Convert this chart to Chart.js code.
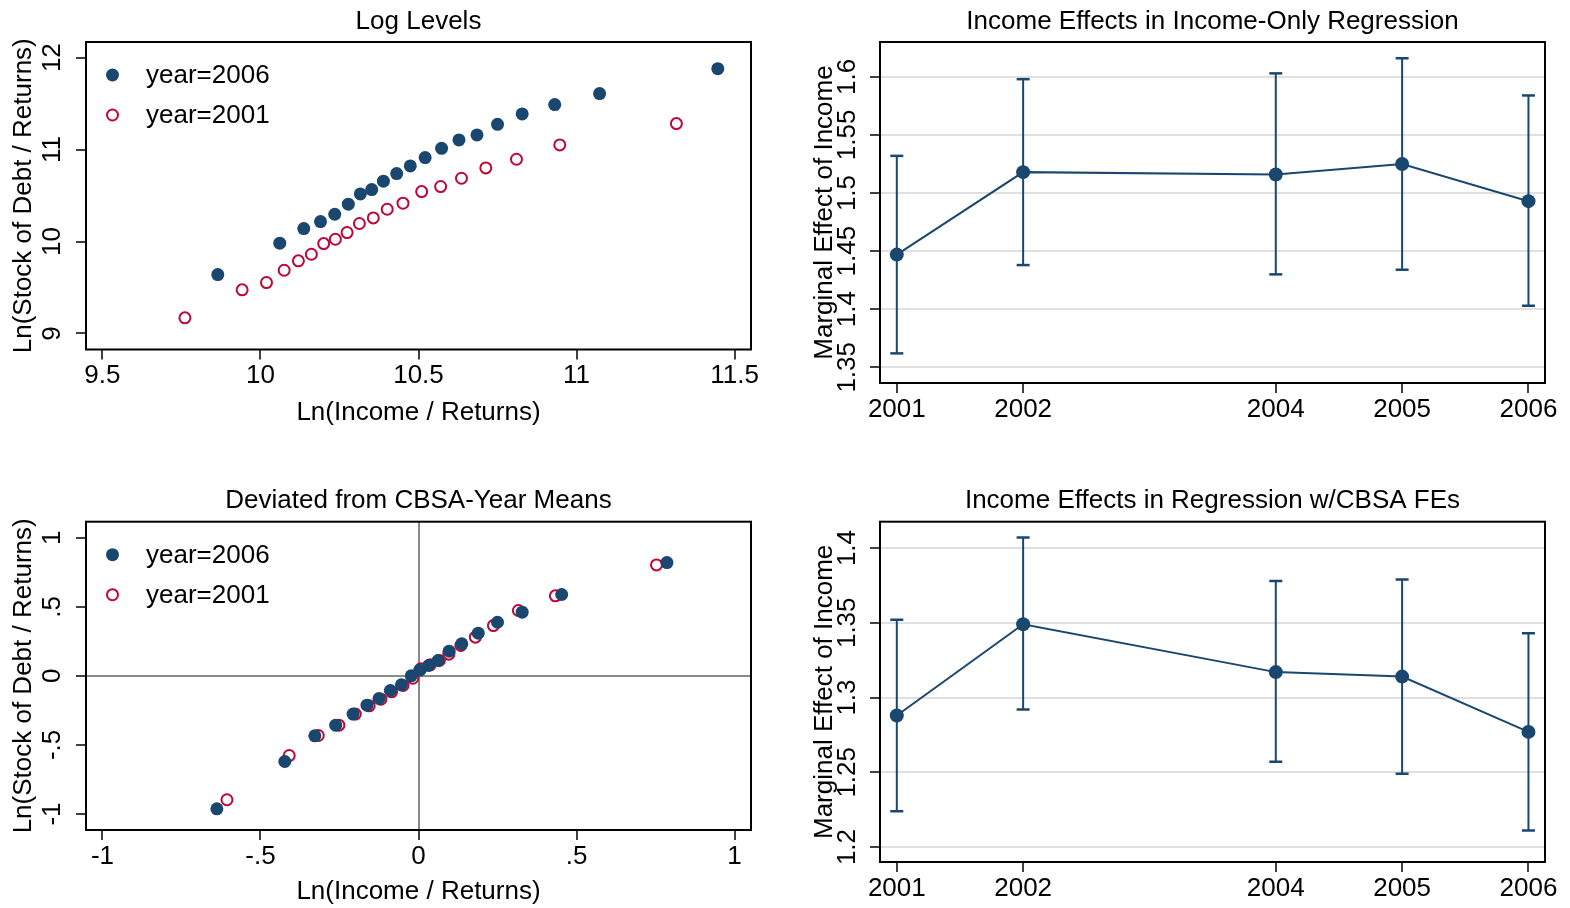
<!DOCTYPE html>
<html>
<head>
<meta charset="utf-8">
<title>Debt and income</title>
<script src="https://cdn.jsdelivr.net/npm/chart.js@4/dist/chart.umd.min.js"></script>
<style>
  html, body { margin: 0; padding: 0; background: #fff; }
  canvas { position: absolute; }
</style>
</head>
<body>
<canvas id="levels" width="785" height="454" style="left:0;top:0"></canvas>
<canvas id="incomeOnly" width="785" height="454" style="left:785px;top:0"></canvas>
<canvas id="deviated" width="785" height="454" style="left:0;top:454px"></canvas>
<canvas id="withFE" width="785" height="454" style="left:785px;top:454px"></canvas>
<script>
// Log levels (one point per income bin)
var lvlX2006 = [9.865, 10.061, 10.137, 10.190, 10.235, 10.278, 10.316, 10.352, 10.389, 10.431,
                10.474, 10.521, 10.573, 10.628, 10.685, 10.750, 10.828, 10.931, 11.073, 11.447];
var lvlY2006 = [9.641, 9.982, 10.141, 10.217, 10.297, 10.406, 10.518, 10.565, 10.656, 10.739,
                10.822, 10.913, 11.014, 11.105, 11.159, 11.275, 11.388, 11.489, 11.609, 11.880];
var lvlX2001 = [9.761, 9.942, 10.019, 10.075, 10.120, 10.161, 10.200, 10.237, 10.274, 10.313,
                10.357, 10.401, 10.451, 10.510, 10.570, 10.636, 10.713, 10.810, 10.947, 11.316];
var lvlY2001 = [9.170, 9.475, 9.554, 9.688, 9.790, 9.862, 9.978, 10.025, 10.098, 10.196,
                10.257, 10.351, 10.417, 10.543, 10.598, 10.688, 10.801, 10.895, 11.051, 11.283];
var lvlXTicks = [9.5, 10, 10.5, 11, 11.5];
var lvlXLabels = ['9.5', '10', '10.5', '11', '11.5'];
var lvlYTicks = [9, 10, 11, 12];
var lvlYLabels = ['9', '10', '11', '12'];

// Deviated from CBSA-year means
var devX2006 = [-0.638, -0.423, -0.328, -0.262, -0.207, -0.163, -0.125, -0.089, -0.054, -0.023,
                0.004, 0.032, 0.062, 0.097, 0.137, 0.189, 0.250, 0.328, 0.453, 0.786];
var devY2006 = [-0.963, -0.620, -0.434, -0.357, -0.277, -0.212, -0.164, -0.106, -0.065, 0.000,
                0.041, 0.075, 0.111, 0.179, 0.232, 0.309, 0.388, 0.461, 0.589, 0.820];
var devX2001 = [-0.606, -0.409, -0.317, -0.252, -0.200, -0.156, -0.119, -0.085, -0.049, -0.018,
                0.007, 0.037, 0.066, 0.096, 0.134, 0.180, 0.237, 0.316, 0.433, 0.753];
var devY2001 = [-0.897, -0.577, -0.432, -0.357, -0.277, -0.217, -0.169, -0.116, -0.070, -0.017,
                0.051, 0.080, 0.111, 0.157, 0.220, 0.280, 0.364, 0.473, 0.579, 0.803];
var devTicks = [-1, -0.5, 0, 0.5, 1];
var devLabels = ['-1', '-.5', '0', '.5', '1'];

// Marginal effect of income by year, with confidence bands
var years = [2001, 2002, 2004, 2005, 2006];
var yearLabels = ['2001', '2002', '2004', '2005', '2006'];
var effOnly = [1.447, 1.518, 1.516, 1.525, 1.493];
var loOnly  = [1.362, 1.438, 1.430, 1.434, 1.403];
var hiOnly  = [1.532, 1.598, 1.603, 1.616, 1.584];
var onlyTicks  = [1.35, 1.4, 1.45, 1.5, 1.55, 1.6];
var onlyLabels = ['1.35', '1.4', '1.45', '1.5', '1.55', '1.6'];
var effFE = [1.288, 1.349, 1.317, 1.314, 1.277];
var loFE  = [1.224, 1.292, 1.257, 1.249, 1.211];
var hiFE  = [1.352, 1.407, 1.378, 1.379, 1.343];
var feTicks  = [1.2, 1.25, 1.3, 1.35, 1.4];
var feLabels = ['1.2', '1.25', '1.3', '1.35', '1.4'];

var navy = '#1a476f';
var red = '#c10534';

Chart.defaults.font.family = "'Liberation Sans', Arial, sans-serif";
Chart.defaults.color = '#000';
Chart.defaults.animation = false;
Chart.defaults.plugins.tooltip.enabled = false;

function pts(xs, ys) {
  return xs.map(function(x, i) { return { x: x, y: ys[i] }; });
}

// each band is a vertical segment lo..hi, broken by a null so they don't join
function bands(lo, hi) {
  var out = [];
  years.forEach(function(yr, i) {
    out.push({ x: yr, y: lo[i] }, { x: yr, y: hi[i] }, { x: yr, y: null });
  });
  return out;
}

// box round the plot region
var frame = {
  id: 'frame',
  afterDatasetsDraw: function(chart) {
    var a = chart.chartArea, ctx = chart.ctx;
    ctx.save();
    ctx.strokeStyle = '#000';
    ctx.lineWidth = 2;
    ctx.strokeRect(a.left, a.top, a.right - a.left, a.bottom - a.top);
    ctx.restore();
  }
};

// legend sitting inside the plot, top left
var key = {
  id: 'key',
  afterDraw: function(chart, args, opts) {
    if (!opts.show) return;
    var a = chart.chartArea, ctx = chart.ctx;
    ctx.save();
    chart.data.datasets.forEach(function(ds, i) {
      var y = a.top + 33 + i * 40;
      var x = a.left + 26.5;
      ctx.beginPath();
      ctx.arc(x, y, ds.pointRadius, 0, Math.PI * 2);
      if (ds.pointBackgroundColor !== 'transparent') {
        ctx.fillStyle = ds.pointBackgroundColor;
        ctx.fill();
      }
      if (ds.pointBorderWidth) {
        ctx.lineWidth = ds.pointBorderWidth;
        ctx.strokeStyle = ds.pointBorderColor;
        ctx.stroke();
      }
      ctx.fillStyle = '#000';
      ctx.font = "26px 'Liberation Sans', Arial, sans-serif";
      ctx.textBaseline = 'middle';
      ctx.textAlign = 'left';
      ctx.fillText(ds.label, a.left + 60, y + 1);
    });
    ctx.restore();
  }
};

function xAxis(o) {
  return {
    type: 'linear', position: 'bottom', min: o.min, max: o.max,
    afterBuildTicks: function(s) { s.ticks = o.ticks.map(function(v) { return { value: v }; }); },
    afterFit: function(s) { s.height = o.h; },
    grid: {
      drawOnChartArea: !!o.zero,
      color: function(c) { return o.zero && c.tick && c.tick.value === 0 ? '#8a8a8a' : 'rgba(0,0,0,0)'; },
      lineWidth: 2,
      tickColor: '#000', tickLength: 10, tickWidth: 1.5
    },
    border: { display: false },
    ticks: {
      autoSkip: false, maxRotation: 0, padding: 1, font: { size: 26 }, color: '#000',
      callback: function(v, i) { return o.labels[i]; }
    },
    title: o.title ? { display: true, text: o.title, font: { size: 26 }, color: '#000', padding: 0 } : { display: false }
  };
}

function yAxis(o) {
  return {
    type: 'linear', position: 'left', min: o.min, max: o.max,
    afterBuildTicks: function(s) { s.ticks = o.ticks.map(function(v) { return { value: v }; }); },
    afterFit: function(s) { s.width = o.w; },
    grid: {
      drawOnChartArea: !!(o.zero || o.gridColor),
      color: function(c) {
        if (o.gridColor) return o.gridColor;
        return o.zero && c.tick && c.tick.value === 0 ? '#8a8a8a' : 'rgba(0,0,0,0)';
      },
      lineWidth: 2,
      tickColor: '#000', tickLength: 10, tickWidth: 1.5
    },
    border: { display: false },
    ticks: {
      autoSkip: false, minRotation: 90, maxRotation: 90, crossAlign: 'center',
      padding: o.pad, font: { size: 26 }, color: '#000',
      callback: function(v, i) { return o.labels[i]; }
    },
    title: { display: true, text: o.title, font: { size: 26 }, color: '#000', padding: { top: o.tpad, bottom: 0 } }
  };
}

function scatterSets(x6, y6, x1, y1) {
  return [
    { label: 'year=2006', data: pts(x6, y6), pointRadius: 6.5, pointBorderWidth: 0,
      pointBackgroundColor: navy, pointBorderColor: navy, backgroundColor: navy },
    { label: 'year=2001', data: pts(x1, y1), pointRadius: 5.5, pointBorderWidth: 2,
      pointBackgroundColor: 'transparent', pointBorderColor: red, borderColor: red }
  ];
}

function effectSets(eff, lo, hi) {
  return [
    { label: 'effect', data: pts(years, eff), showLine: true, borderColor: navy, borderWidth: 2,
      pointRadius: 7, pointBorderWidth: 0, pointBackgroundColor: navy },
    { label: 'band', data: bands(lo, hi), showLine: true, spanGaps: false, borderColor: navy, borderWidth: 2,
      pointStyle: 'line', pointRadius: 6.5, pointBorderWidth: 2.5, pointBorderColor: navy }
  ];
}

function titleOpts(text, top, bottom) {
  return { display: true, text: text, fullSize: false, font: { size: 26, weight: 'normal' },
           color: '#000', padding: { top: top, bottom: bottom } };
}

new Chart(document.getElementById('levels'), {
  type: 'scatter',
  data: { datasets: scatterSets(lvlX2006, lvlY2006, lvlX2001, lvlY2001) },
  options: {
    responsive: false,
    layout: { padding: { left: 0, right: 34, top: 0, bottom: 26 } },
    plugins: { legend: { display: false }, title: titleOpts('Log Levels', 6.4, 4.4), key: { show: true } },
    scales: {
      x: xAxis({ min: 9.448, max: 11.552, ticks: lvlXTicks, labels: lvlXLabels, h: 78.5, title: 'Ln(Income / Returns)' }),
      y: yAxis({ min: 8.826, max: 12.17, ticks: lvlYTicks, labels: lvlYLabels, w: 86, pad: 8.5, tpad: 8.5,
                 title: 'Ln(Stock of Debt / Returns)' })
    }
  },
  plugins: [frame, key]
});

new Chart(document.getElementById('incomeOnly'), {
  type: 'scatter',
  data: { datasets: effectSets(effOnly, loOnly, hiOnly) },
  options: {
    responsive: false,
    layout: { padding: { left: 25, right: 25, top: 0, bottom: 31 } },
    plugins: { legend: { display: false }, title: titleOpts('Income Effects in Income-Only Regression', 6.4, 4.4) },
    scales: {
      x: xAxis({ min: 2000.867, max: 2006.131, ticks: years, labels: yearLabels, h: 40 }),
      y: yAxis({ min: 1.3365, max: 1.630, ticks: onlyTicks, labels: onlyLabels, w: 70, pad: -3.6, tpad: -1,
                 gridColor: '#e0e0e0', title: 'Marginal Effect of Income' })
    }
  },
  plugins: [frame]
});

new Chart(document.getElementById('deviated'), {
  type: 'scatter',
  data: { datasets: scatterSets(devX2006, devY2006, devX2001, devY2001) },
  options: {
    responsive: false,
    layout: { padding: { left: 0, right: 34, top: 0, bottom: 1 } },
    plugins: { legend: { display: false }, title: titleOpts('Deviated from CBSA-Year Means', 31.4, 5.1), key: { show: true } },
    scales: {
      x: xAxis({ min: -1.052, max: 1.052, ticks: devTicks, labels: devLabels, h: 77, zero: true,
                 title: 'Ln(Income / Returns)' }),
      y: yAxis({ min: -1.116, max: 1.116, ticks: devTicks, labels: devLabels, w: 86, pad: 7.8, tpad: 8.5, zero: true,
                 title: 'Ln(Stock of Debt / Returns)' })
    }
  },
  plugins: [frame, key]
});

new Chart(document.getElementById('withFE'), {
  type: 'scatter',
  data: { datasets: effectSets(effFE, loFE, hiFE) },
  options: {
    responsive: false,
    layout: { padding: { left: 25, right: 25, top: 0, bottom: 6 } },
    plugins: { legend: { display: false }, title: titleOpts('Income Effects in Regression w/CBSA FEs', 31.4, 5.1) },
    scales: {
      x: xAxis({ min: 2000.867, max: 2006.131, ticks: years, labels: yearLabels, h: 40 }),
      y: yAxis({ min: 1.190, max: 1.4176, ticks: feTicks, labels: feLabels, w: 70, pad: -3.6, tpad: -1,
                 gridColor: '#e0e0e0', title: 'Marginal Effect of Income' })
    }
  },
  plugins: [frame]
});
</script>
</body>
</html>
